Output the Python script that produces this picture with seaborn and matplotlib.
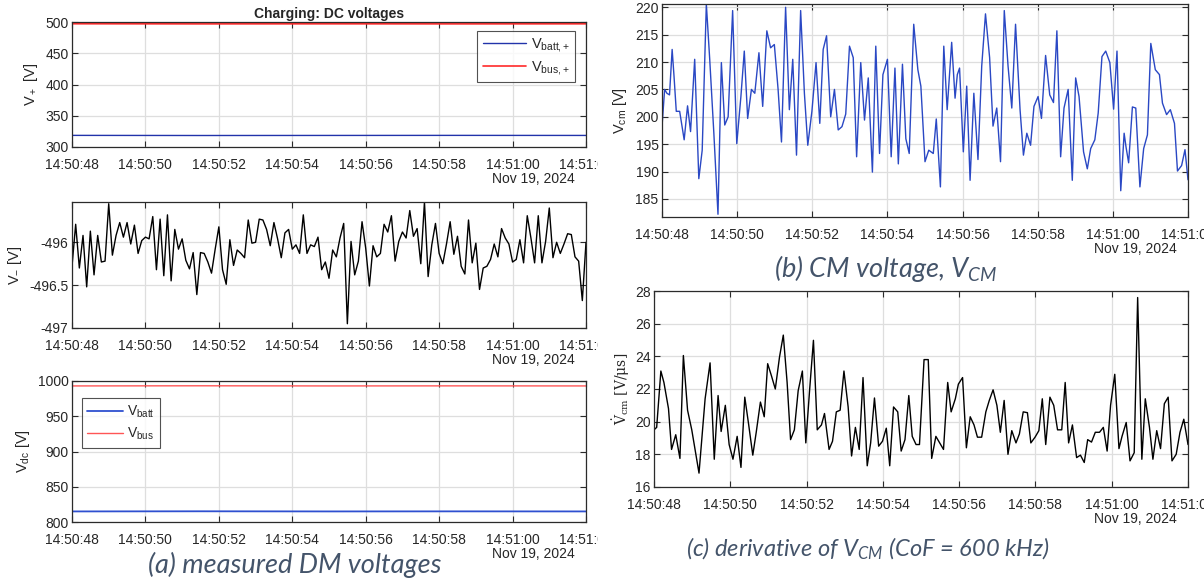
import numpy as np
import pandas as pd
import matplotlib
matplotlib.use('Agg')
import matplotlib.pyplot as plt
import matplotlib.dates as mdates
from matplotlib.ticker import FuncFormatter
from matplotlib.transforms import Bbox, TransformedBbox
import seaborn as sns

# Data (seconds after 14:50:48, Nov 19 2024)
start = pd.Timestamp('2024-11-19 14:50:48')

flat_t = [0.0, 3.5, 7.0, 10.5, 14.0]
v_batt_plus = [318.6, 318.4, 318.5, 318.6, 318.5]
v_bus_plus = [497.2, 497.0, 497.1, 497.0, 497.1]
v_batt = [815.0, 815.2, 815.0, 815.1, 815.0]
v_bus = [993.0, 993.2, 993.0, 993.1, 993.0]

# V_- sampled every 0.1 s
v_minus = [
    -496.28, -495.79, -496.30, -495.92, -496.52, -495.87, -496.38, -495.92, -496.23, -496.22,
    -495.55, -496.15, -495.92, -495.77, -495.94, -495.77, -496.02, -495.80, -496.13, -495.98,
    -495.94, -495.96, -495.70, -496.32, -495.73, -496.39, -495.68, -496.45, -495.85, -496.08,
    -495.96, -496.21, -496.31, -496.12, -496.61, -496.12, -496.13, -496.23, -496.36, -496.08,
    -495.82, -496.32, -496.49, -495.97, -496.27, -496.09, -496.13, -496.18, -495.74, -496.01,
    -496.00, -495.73, -495.74, -495.85, -496.04, -495.77, -495.96, -496.18, -495.89, -495.85,
    -496.08, -496.03, -496.13, -495.68, -496.13, -496.03, -496.05, -495.94, -496.32, -496.23,
    -496.42,
    -496.09, -496.17, -495.95, -495.78, -496.95, -495.99, -496.38, -496.22, -495.76, -496.07,
    -496.51, -496.04, -496.17, -496.13, -495.79, -495.88, -495.69, -496.22, -495.99, -495.88,
    -495.95, -495.63, -495.93, -495.84, -496.25, -495.53, -496.40, -496.03, -495.78, -496.13,
    -496.25, -496.02, -495.76, -496.14, -495.93, -496.28, -496.37, -495.74, -496.24, -496.01,
    -496.55, -496.30, -496.28, -496.20, -496.02, -496.17, -495.84, -495.95, -496.02, -496.23,
    -496.20, -495.97, -496.24, -495.69, -495.95, -496.24, -495.69, -496.24, -495.99, -495.60,
    -496.18, -496.00, -496.13, -496.02, -495.90, -495.91, -496.17, -496.22, -496.68,
    -496.00,
]
v_minus_t = [i * 0.1 for i in range(len(v_minus))]

v_cm_t = [
    0.0, 0.07, 0.13, 0.2, 0.27, 0.32, 0.38, 0.47, 0.59, 0.68, 0.76, 0.87, 0.98, 1.07, 1.18, 1.27,
    1.38, 1.49, 1.58, 1.67, 1.76, 1.88, 1.99, 2.10, 2.19, 2.28, 2.38, 2.47, 2.58, 2.68, 2.79, 2.89,
    2.99, 3.09, 3.18, 3.29, 3.39, 3.48, 3.58, 3.69, 3.79, 3.88, 3.99, 4.10, 4.20, 4.29, 4.38, 4.49,
    4.59, 4.69, 4.79, 4.89, 4.99, 5.09, 5.18, 5.29, 5.39, 5.49, 5.60, 5.69, 5.79, 5.88, 6.0, 6.10,
    6.20, 6.29, 6.40, 6.49, 6.58, 6.70, 6.81, 6.89, 7.0, 7.10, 7.22, 7.30, 7.41, 7.50, 7.59, 7.71,
    7.80, 7.86, 7.92, 8.02, 8.11, 8.20, 8.30, 8.41, 8.51, 8.61, 8.72, 8.81, 8.91, 9.01, 9.11, 9.21,
    9.31, 9.41, 9.53, 9.62, 9.71, 9.81, 9.90, 10.01, 10.10, 10.21, 10.32, 10.42, 10.51, 10.61,
    10.70, 10.81, 10.92, 11.01, 11.10, 11.22, 11.32, 11.41, 11.52, 11.61, 11.71, 11.81, 11.92,
    12.02, 12.11, 12.21, 12.30, 12.35, 12.42, 12.52, 12.61, 12.72, 12.82, 12.92, 13.01, 13.13,
    13.24, 13.32, 13.43, 13.53, 13.64, 13.72, 13.83, 13.92, 14.0,
]
v_cm = [
    198.2, 205.0, 204.3, 204.0, 212.3, 207.4, 201.0, 201.0, 195.8, 202.0, 197.3, 210.5, 188.7, 193.9, 220.6, 210.5,
    197.0, 182.2, 209.9, 198.5, 200.0, 219.4, 195.1, 203.7, 212.0, 199.7, 205.0, 204.3, 211.7, 201.9, 215.7, 212.6,
    213.2, 205.0, 195.4, 220.0, 201.3, 210.5, 193.0, 219.4, 204.3, 194.8, 201.0, 209.9, 198.8, 212.3, 214.8, 200.0,
    205.0, 197.6, 198.2, 200.5, 212.9, 210.8, 192.7, 209.9, 199.4, 207.1, 189.9, 212.9, 193.3, 207.7, 210.5, 192.7,
    208.9, 191.4, 209.6, 196.0, 193.3, 216.9, 208.6, 205.6, 191.8, 193.9, 193.3, 199.6, 187.2, 212.9, 201.3, 213.6,
    203.4, 207.7, 208.9, 193.6, 205.6, 188.4, 204.3, 192.2, 209.3, 218.8, 210.8, 198.3, 201.6, 191.8, 219.4, 209.3,
    201.6, 216.9, 201.3, 193.0, 197.0, 194.8, 201.9, 203.7, 199.7, 211.2, 204.0, 202.6, 215.7, 192.7,
    201.6, 205.0, 188.4, 207.1, 203.7, 193.6, 190.5, 194.2, 195.8, 200.7, 211.0, 212.0, 209.9,
    201.4, 212.0, 186.5, 197.0, 194.5, 191.6, 201.8, 201.6, 187.2, 194.2, 196.7, 213.4, 208.6,
    207.7, 202.5, 200.4, 201.3, 198.8, 190.1, 191.1, 194.0, 188.5,
]

dv_cm_t = [
    0.0, 0.07, 0.18, 0.26, 0.38, 0.46, 0.57, 0.68, 0.77, 0.88, 0.99, 1.18, 1.34, 1.47, 1.58, 1.68,
    1.76, 1.87, 1.97, 2.07, 2.18, 2.28, 2.38, 2.48, 2.59, 2.68, 2.79, 2.89, 2.98, 3.08, 3.18, 3.29,
    3.39, 3.49, 3.58, 3.68, 3.78, 3.89, 3.98, 4.08, 4.18, 4.28, 4.39, 4.47, 4.59, 4.68, 4.78, 4.88,
    4.98, 5.09, 5.18, 5.28, 5.38, 5.48, 5.59, 5.68, 5.78, 5.89, 5.99, 6.09, 6.18, 6.28, 6.39, 6.48,
    6.58, 6.68, 6.77, 6.87, 6.96, 7.08, 7.19, 7.28, 7.39, 7.49, 7.59, 7.70, 7.79, 7.90, 7.98, 8.09,
    8.19, 8.29, 8.39, 8.48, 8.59, 8.70, 8.79, 8.89, 8.99, 9.08, 9.18, 9.28, 9.38, 9.49, 9.58, 9.68,
    9.79, 9.88, 9.99, 10.09, 10.18, 10.27, 10.38, 10.48, 10.58, 10.69, 10.78, 10.87, 10.97, 11.08,
    11.18, 11.28, 11.37, 11.47, 11.57, 11.68, 11.78, 11.88, 11.97, 12.08, 12.19, 12.27, 12.38,
    12.48, 12.59, 12.68, 12.79, 12.88, 12.99, 13.08, 13.18, 13.28, 13.38, 13.48, 13.58, 13.69,
    13.79, 13.89, 14.0,
]
dv_cm = [
    19.5, 19.65, 23.1, 22.4, 20.8, 18.3, 19.2, 17.75, 24.05, 20.7, 19.5, 16.85, 21.4, 23.6, 17.7, 21.6,
    19.4, 21.0, 18.6, 17.7, 19.1, 17.2, 21.5, 19.85, 17.95, 19.35, 21.2, 20.3, 23.55, 22.8, 22.0, 23.95,
    25.3, 22.4, 18.9, 19.5, 21.9, 23.1, 18.7, 21.95, 24.98, 19.5, 19.8, 20.5, 18.3, 18.8, 20.6, 20.7,
    23.1, 20.9, 17.9, 19.65, 18.3, 22.7, 17.3, 18.7, 21.45, 18.5, 18.8, 19.6, 17.3, 20.9, 20.6, 18.2,
    18.9, 21.6, 19.1, 18.6, 18.6, 23.8, 23.8, 17.75, 19.1, 18.7, 18.3, 22.4, 20.6, 21.4, 22.3, 22.7,
    18.4, 20.3, 19.8, 19.05, 19.05, 20.6, 21.3, 21.95, 21.0, 19.35, 21.3, 18.0, 19.45, 18.7, 19.25, 20.6,
    20.55, 18.7, 19.05, 19.45, 21.4, 18.6, 21.5, 21.0, 19.5, 19.5, 22.4, 18.7, 19.8, 17.8,
    17.95, 17.5, 18.9, 18.75, 19.35, 19.35, 19.65, 18.2, 21.0, 22.9, 18.35, 19.1, 19.95,
    17.6, 18.1, 27.6, 17.7, 21.4, 19.65, 17.7, 19.45, 18.35, 21.1, 21.5, 17.6, 18.0,
    19.35, 20.15, 18.6,
]


def to_time(secs):
    return start + pd.to_timedelta(np.asarray(secs), unit='s')


sns.set_theme(style='whitegrid')
plt.rcParams['font.family'] = ['Liberation Sans', 'DejaVu Sans']
plt.rcParams['mathtext.default'] = 'regular'

W, H = 1204, 578
fig = plt.figure(figsize=(W / 100, H / 100), dpi=100)
fig.patch.set_facecolor('white')


def px_axes(l, t, r, b):
    return fig.add_axes([l / W, 1 - b / H, (r - l) / W, (b - t) / H])


def style(ax, ylim, yticks, ylabel, clip_left=False):
    ax.set_facecolor('white')
    ax.set_xlim(start, start + pd.Timedelta(seconds=14))
    ax.xaxis.set_major_locator(mdates.SecondLocator(interval=2))
    ax.xaxis.set_major_formatter(mdates.DateFormatter('%H:%M:%S'))
    ax.set_ylim(*ylim)
    ax.set_yticks(yticks)
    ax.yaxis.set_major_formatter(FuncFormatter(lambda v, p: f'{v:g}'))
    ax.grid(True, color='#dedede', linewidth=0.9)
    for s in ax.spines.values():
        s.set_color('#2b2b2b')
        s.set_linewidth(0.9)
    ax.tick_params(direction='in', length=4, width=0.8, color='#2b2b2b',
                   top=True, right=True, bottom=True, left=True,
                   labelsize=10, labelcolor='#262626')
    ax.tick_params(axis='x', pad=8)
    ax.tick_params(axis='y', pad=2.5)
    ax.set_xlabel('')
    ax.set_ylabel(ylabel, fontsize=10.5, color='#262626', labelpad=4)
    ax.annotate('Nov 19, 2024', xy=(1, 0), xycoords='axes fraction',
                xytext=(-11, -32), textcoords='offset pixels',
                ha='right', va='center', fontsize=10, color='#262626')
    if clip_left:
        clip = TransformedBbox(Bbox([[0, 0], [598 / W, 1]]), fig.transFigure)
        for lab in ax.get_xticklabels():
            lab.set_clip_box(clip)
            lab.set_clip_on(True)


# (a) left column
ax1 = px_axes(72, 22, 586, 147)
sns.lineplot(x=to_time(flat_t), y=v_batt_plus, ax=ax1, color='#2233aa', linewidth=1.0, label='V$_{batt{,}+}$')
sns.lineplot(x=to_time(flat_t), y=v_bus_plus, ax=ax1, color='#ff2a2a', linewidth=1.2, label='V$_{bus{,}+}$')
style(ax1, (300, 500), [300, 350, 400, 450, 500], 'V$_+$ [V]', clip_left=True)
ax1.set_title('Charging: DC voltages', fontsize=10, fontweight='bold', color='#262626', pad=3)
leg = ax1.legend(loc='upper right', bbox_to_anchor=(0.993, 0.985), fontsize=10.5, frameon=True,
                 fancybox=False, edgecolor='#262626', handlelength=3.0, borderpad=0.35,
                 labelspacing=0.3, handletextpad=0.3)
leg.get_frame().set_linewidth(0.8)

ax2 = px_axes(72, 202, 586, 328)
sns.lineplot(x=to_time(v_minus_t), y=v_minus, ax=ax2, color='black', linewidth=1.0)
style(ax2, (-497, max(v_minus)), [-497, -496.5, -496], 'V$_{-}$ [V]', clip_left=True)

ax3 = px_axes(72, 381, 586, 522)
sns.lineplot(x=to_time(flat_t), y=v_batt, ax=ax3, color='#2f50d0', linewidth=1.3, label='V$_{batt}$')
sns.lineplot(x=to_time(flat_t), y=v_bus, ax=ax3, color='#ff5555', linewidth=1.0, label='V$_{bus}$')
style(ax3, (800, 1000), [800, 850, 900, 950, 1000], 'V$_{dc}$ [V]', clip_left=True)
leg = ax3.legend(loc='upper left', bbox_to_anchor=(0.005, 0.93), fontsize=10, frameon=True,
                 fancybox=False, edgecolor='#262626', handlelength=2.6, borderpad=0.4,
                 labelspacing=0.45, handletextpad=0.3)
leg.get_frame().set_linewidth(0.8)

# (b) CM voltage
axb = px_axes(662, 4, 1188, 217)
sns.lineplot(x=to_time(v_cm_t), y=v_cm, ax=axb, color='#2a48c4', linewidth=1.0)
style(axb, (min(v_cm) - 0.5, max(v_cm)), [185, 190, 195, 200, 205, 210, 215, 220], 'V$_{cm}$ [V]')

# (c) derivative of CM voltage
axc = px_axes(654, 291, 1188, 487)
sns.lineplot(x=to_time(dv_cm_t), y=dv_cm, ax=axc, color='black', linewidth=1.0)
style(axc, (16, 28), [16, 18, 20, 22, 24, 26, 28], '')
axc.set_ylabel(r'$\dot{V}_{cm}$ [V/$\mu s$]', fontsize=10, family='DejaVu Serif', color='#262626', labelpad=2)

cap = dict(style='italic', color='#44546a', family=['Lato', 'DejaVu Sans'], ha='center', va='center')
fig.text(295 / W, 1 - 565 / H, '(a) measured DM voltages', fontsize=19.5, **cap)
fig.text(886 / W, 1 - 268 / H, '(b) CM voltage, V$_{CM}$', fontsize=19.5, **cap)
fig.text(868 / W, 1 - 549 / H, '(c) derivative of V$_{CM}$ (CoF = 600 kHz)', fontsize=17, **cap)

fig.savefig('out.png', dpi=100)
